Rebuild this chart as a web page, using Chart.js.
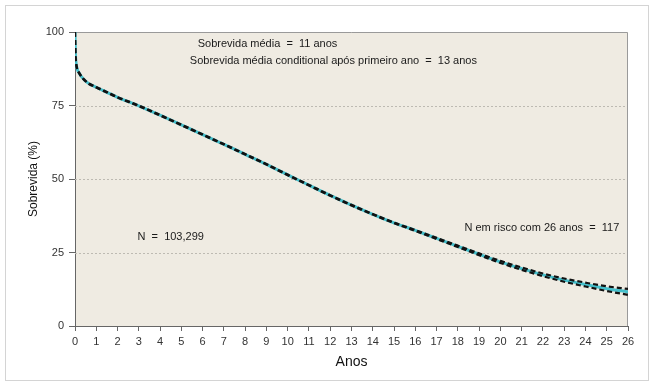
<!DOCTYPE html>
<html>
<head>
<meta charset="utf-8">
<script src="https://cdn.jsdelivr.net/npm/chart.js@4"></script>
<style>
  html, body { margin: 0; padding: 0; background: #fff; }
  #wrap { width: 654px; height: 386px; position: relative; }
</style>
</head>
<body>
<div id="wrap"><canvas id="c" width="654" height="386"></canvas></div>
<script>
// Follow-up time (years)
const years = [0, 0.02, 0.05, 0.1, 0.2, 0.35, 0.6, 1, 1.5, 2, 3, 4, 5, 6, 7, 8, 9, 10, 11, 12, 13, 14, 15, 16, 17, 18, 19, 20, 21, 22, 23, 24, 25, 26];
// Kaplan-Meier survival estimate (%)
const survival = [100, 92.5, 89.5, 87.5, 86.0, 84.4, 82.7, 81.2, 79.5, 77.8, 74.9, 71.7, 68.4, 65.1, 61.8, 58.4, 55.0, 51.4, 47.9, 44.4, 41.1, 38.0, 35.1, 32.5, 29.8, 27.1, 24.4, 21.8, 19.5, 17.4, 15.6, 14.1, 12.7, 11.6];
// 95% confidence bounds (%)
const upperCI = [100, 92.6, 89.6, 87.6, 86.1, 84.5, 82.8, 81.3, 79.6, 77.9, 75.0, 71.8, 68.5, 65.2, 61.9, 58.5, 55.1, 51.5, 48.0, 44.5, 41.2, 38.1, 35.2, 32.65, 30.0, 27.35, 24.7, 22.15, 19.9, 17.85, 16.15, 14.75, 13.5, 12.6];
const lowerCI = [100, 92.4, 89.4, 87.4, 85.9, 84.3, 82.6, 81.1, 79.4, 77.7, 74.8, 71.6, 68.3, 65.0, 61.7, 58.3, 54.9, 51.3, 47.8, 44.3, 41.0, 37.9, 35.0, 32.35, 29.6, 26.85, 24.1, 21.45, 19.1, 16.95, 15.05, 13.45, 11.9, 10.6];
// Axis ticks
const yTicks = [0, 25, 50, 75, 100];
const xMax = 26;
// Text notes placed in data coordinates
const noteTexts = [
  'Sobrevida média  =  11 anos',
  'Sobrevida média conditional após primeiro ano  =  13 anos',
  'N  =  103,299',
  'N em risco com 26 anos  =  117'
];
const noteAnchors = [[9.05, 95.8], [12.15, 90.3], [4.5, 30.2], [21.95, 33.3]];

const toXY = arr => years.map((x, i) => ({ x: x, y: arr[i] }));

const frame = {
  id: 'frame',
  beforeDraw(chart) {
    const { ctx, chartArea: a } = chart;
    ctx.save();
    ctx.fillStyle = '#ffffff';
    ctx.fillRect(0, 0, chart.width, chart.height);
    ctx.strokeStyle = '#d4d4d4';
    ctx.lineWidth = 1;
    ctx.strokeRect(5.5, 5.5, chart.width - 11, chart.height - 11);
    ctx.fillStyle = '#efebe2';
    ctx.fillRect(a.left, a.top, a.right - a.left, a.bottom - a.top);
    ctx.restore();
  },
  beforeDatasetsDraw(chart) {
    const { ctx, chartArea: a, scales: { y } } = chart;
    ctx.save();
    ctx.strokeStyle = '#bdbab2';
    ctx.lineWidth = 1;
    ctx.setLineDash([2, 2]);
    yTicks.forEach(v => {
      if (v === 0 || v === 100) return;
      const py = Math.round(y.getPixelForValue(v)) + 0.5;
      ctx.beginPath();
      ctx.moveTo(a.left, py);
      ctx.lineTo(a.right, py);
      ctx.stroke();
    });
    ctx.setLineDash([]);
    ctx.strokeStyle = '#9a9a9a';
    ctx.beginPath();
    const top = Math.round(a.top) + 0.5, right = Math.round(a.right) - 0.5;
    ctx.moveTo(a.left, top);
    ctx.lineTo(right, top);
    ctx.lineTo(right, a.bottom);
    ctx.stroke();
    ctx.restore();
  },
  afterDatasetsDraw(chart) {
    const { ctx, scales: { x, y } } = chart;
    ctx.save();
    ctx.font = '11px "Liberation Sans", Arial, sans-serif';
    ctx.fillStyle = '#1a1a1a';
    ctx.textAlign = 'center';
    ctx.textBaseline = 'middle';
    noteTexts.forEach((t, i) => {
      ctx.fillText(t, x.getPixelForValue(noteAnchors[i][0]), y.getPixelForValue(noteAnchors[i][1]));
    });
    ctx.restore();
  }
};

new Chart(document.getElementById('c'), {
  type: 'line',
  data: {
    datasets: [
      {
        label: 'Sobrevida',
        data: toXY(survival),
        borderColor: '#45bfcb',
        borderWidth: 3,
        pointRadius: 0,
        cubicInterpolationMode: 'monotone',
        order: 3
      },
      {
        label: 'IC superior',
        data: toXY(upperCI),
        borderColor: '#111111',
        borderWidth: 2.2,
        borderDash: [5, 3],
        pointRadius: 0,
        cubicInterpolationMode: 'monotone',
        order: 1
      },
      {
        label: 'IC inferior',
        data: toXY(lowerCI),
        borderColor: '#111111',
        borderWidth: 2.2,
        borderDash: [5, 3],
        pointRadius: 0,
        cubicInterpolationMode: 'monotone',
        order: 2
      }
    ]
  },
  options: {
    responsive: false,
    animation: false,
    devicePixelRatio: 1,
    layout: { padding: { top: 32, right: 26, left: 0, bottom: 0 } },
    plugins: { legend: { display: false }, tooltip: { enabled: false } },
    scales: {
      x: {
        type: 'linear',
        min: 0,
        max: xMax,
        afterFit: s => { s.height = 60; },
        afterBuildTicks: s => { s.ticks = Array.from({ length: xMax + 1 }, (_, i) => ({ value: i })); },
        ticks: {
          autoSkip: false,
          maxRotation: 0,
          padding: 4,
          color: '#333',
          font: { family: '"Liberation Sans", Arial, sans-serif', size: 11 }
        },
        grid: { drawOnChartArea: false, drawTicks: true, tickLength: 5, tickColor: '#666', color: '#666' },
        border: { color: '#666', width: 1 },
        title: {
          display: true,
          text: 'Anos',
          color: '#111',
          font: { family: '"Liberation Sans", Arial, sans-serif', size: 14 },
          padding: { top: 0, bottom: 15 }
        }
      },
      y: {
        min: 0,
        max: 100,
        afterFit: s => { s.width = 75; },
        afterBuildTicks: s => { s.ticks = yTicks.map(v => ({ value: v })); },
        ticks: {
          padding: 5,
          color: '#333',
          font: { family: '"Liberation Sans", Arial, sans-serif', size: 11 }
        },
        grid: { drawOnChartArea: false, drawTicks: true, tickLength: 6, tickColor: '#666', color: '#666' },
        border: { color: '#666', width: 1 },
        title: {
          display: true,
          text: 'Sobrevida (%)',
          color: '#111',
          font: { family: '"Liberation Sans", Arial, sans-serif', size: 12 },
          padding: { top: 26, bottom: 0 }
        }
      }
    }
  },
  plugins: [frame]
});
</script>
</body>
</html>
